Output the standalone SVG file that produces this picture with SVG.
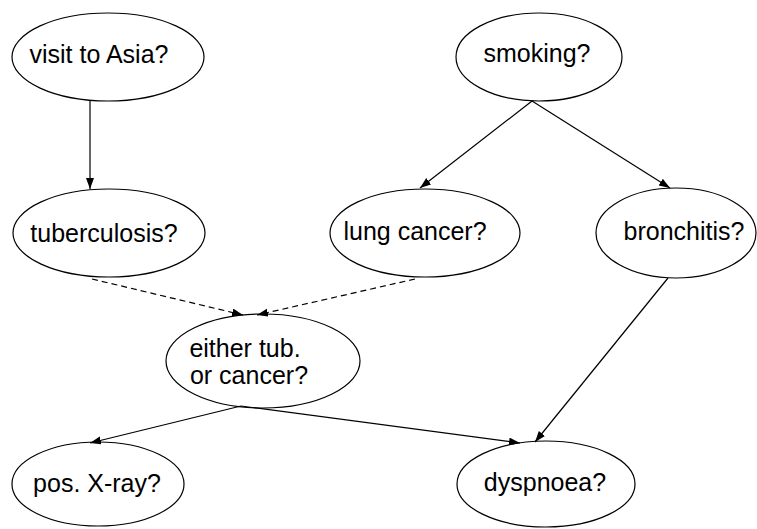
<svg xmlns="http://www.w3.org/2000/svg" width="757" height="529" viewBox="0 0 757 529">
<style>
.n ellipse{fill:#fff;stroke:#000;stroke-width:1.2}
.n text{font-family:"Liberation Sans",Arial,sans-serif;font-size:25px;fill:#000;text-anchor:middle}
.e line{stroke:#000;stroke-width:1.2;fill:none}
.e .d{stroke-dasharray:6 4}
</style>
<defs>
<marker id="ah" markerUnits="userSpaceOnUse" markerWidth="12" markerHeight="10" refX="11" refY="4" orient="auto">
<path d="M0,0 L11,4 L0,8 Z" fill="#000"/>
</marker>
</defs>
<rect width="757" height="529" fill="#fff"/>
<g id="nodes" class="n">
<g id="asia"><ellipse cx="108" cy="57" rx="96" ry="44"/><text x="99" y="63">visit to Asia?</text></g>
<g id="smoking"><ellipse cx="539" cy="57" rx="83" ry="44"/><text x="537" y="62">smoking?</text></g>
<g id="tub"><ellipse cx="109" cy="233" rx="96" ry="44"/><text x="104" y="242">tuberculosis?</text></g>
<g id="lung"><ellipse cx="425" cy="233" rx="95" ry="44"/><text x="415" y="240">lung cancer?</text></g>
<g id="bronc"><ellipse cx="676" cy="233" rx="80" ry="45"/><text x="684" y="240">bronchitis?</text></g>
<g id="either"><ellipse cx="263" cy="361" rx="97" ry="47"/><text x="245" y="357">either tub.</text><text x="249" y="384">or cancer?</text></g>
<g id="xray"><ellipse cx="98" cy="484" rx="86" ry="42"/><text x="97" y="492">pos. X-ray?</text></g>
<g id="dysp"><ellipse cx="546" cy="484" rx="89" ry="43"/><text x="545" y="491">dyspnoea?</text></g>
</g>
<g id="connectors" class="e">
<line x1="90" y1="100" x2="90" y2="189" marker-end="url(#ah)"/>
<line x1="532" y1="101" x2="420" y2="188" marker-end="url(#ah)"/>
<line x1="532" y1="101" x2="670" y2="188" marker-end="url(#ah)"/>
<line class="d" x1="92" y1="279" x2="243" y2="315" marker-end="url(#ah)"/>
<line class="d" x1="415" y1="279" x2="257" y2="315" marker-end="url(#ah)"/>
<line x1="241" y1="406" x2="90" y2="443" marker-end="url(#ah)"/>
<line x1="241" y1="406" x2="520" y2="443" marker-end="url(#ah)"/>
<line x1="668" y1="278" x2="535" y2="442" marker-end="url(#ah)"/>
</g>
</svg>
